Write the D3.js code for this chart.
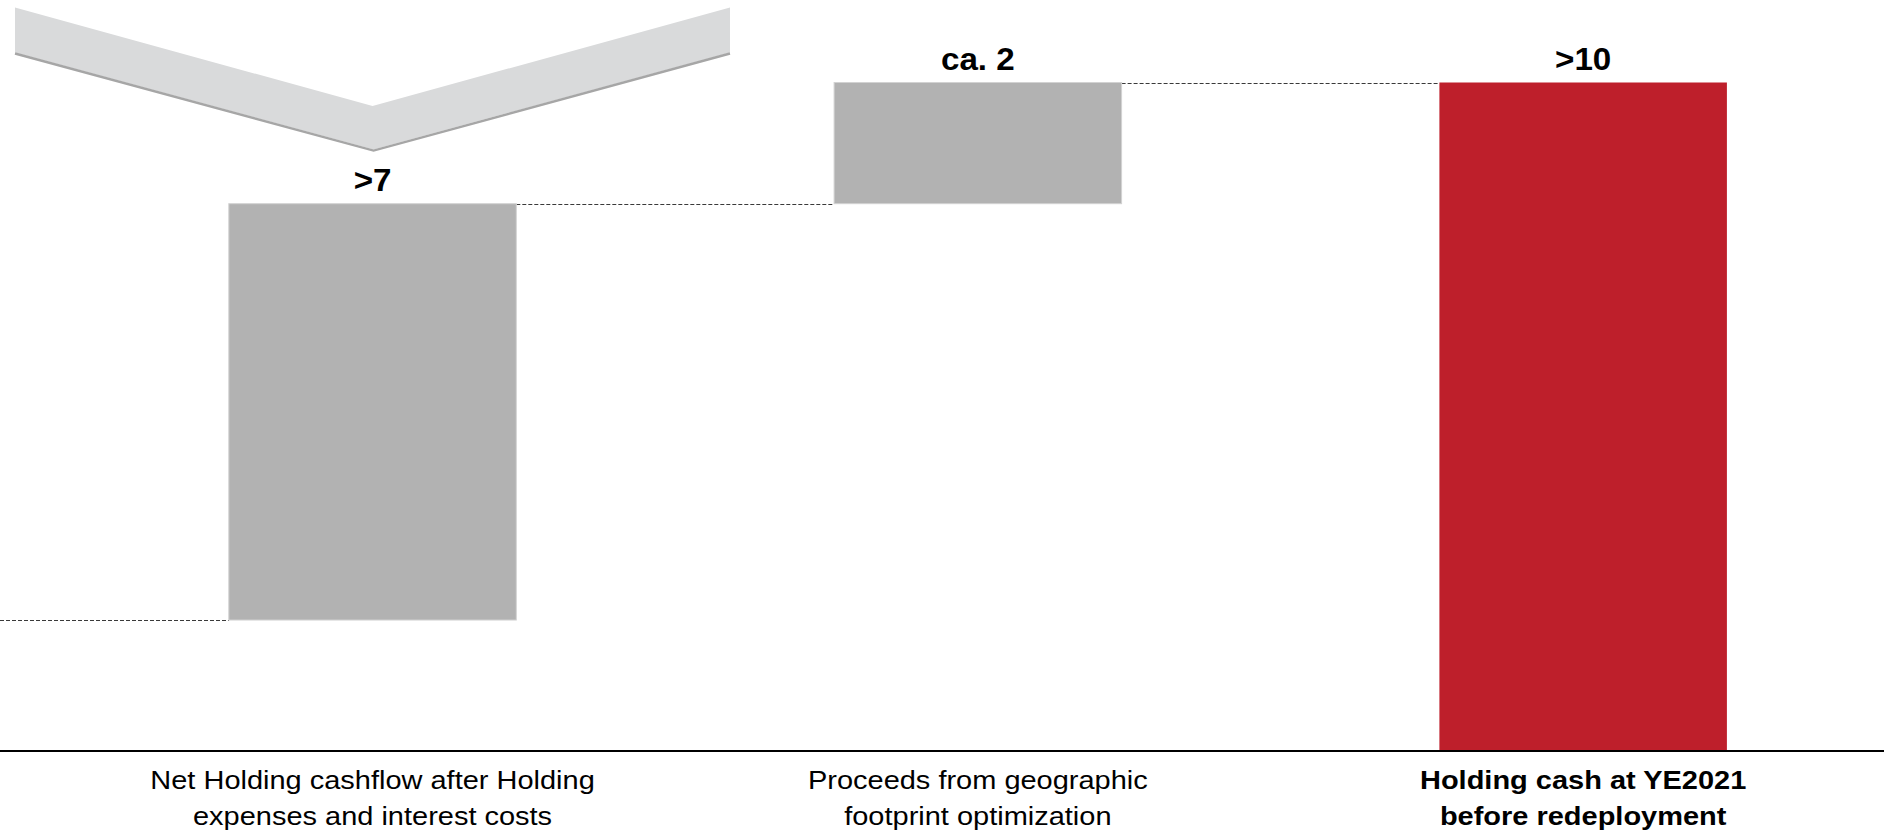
<!DOCTYPE html>
<html>
<head>
<meta charset="utf-8">
<script src="https://cdn.jsdelivr.net/npm/d3@7"></script>
<style>
  html, body { margin: 0; padding: 0; background: #fff; overflow: hidden; }
  svg { display: block; }
  text { font-family: "Liberation Sans", Arial, Helvetica, sans-serif; fill: #000; }
</style>
</head>
<body>
<svg id="chart" width="1898" height="831"></svg>
<script>
// ---- data ----
const startLevel = 2.25;                       // opening holding cash (bar lies left of view)
const categories = ["net", "proceeds", "total"];
const categoryLines = [
  ["Net Holding cashflow after Holding", "expenses and interest costs"],
  ["Proceeds from geographic", "footprint optimization"],
  ["Holding cash at YE2021", "before redeployment"]
];
const deltas = [7.18, 2.09];                   // EUR bn increments
const valueLabels = [">7", "ca. 2", ">10"];
const isTotal = [false, false, true];

// ---- derived waterfall ----
const total = startLevel + d3.sum(deltas);
const bars = categories.map((c, i) => {
  if (isTotal[i]) return { key: c, y0: 0, y1: total, i };
  const base = startLevel + d3.sum(deltas.slice(0, i));
  return { key: c, y0: base, y1: base + deltas[i], i };
});

// ---- scales ----
const svg = d3.select("#chart");
const step = 605.3, bw = 287.5, firstLeft = 228.8;
const pIn = 1 - bw / step, pOut = 0.5;
const r0 = firstLeft - pOut * step;
const r1 = r0 + step * (categories.length - pIn + 2 * pOut);
const x = d3.scaleBand().domain(categories).range([r0, r1]).paddingInner(pIn).paddingOuter(pOut);
const y = d3.scaleLinear().domain([0, total]).range([750.5, 82.5]);

// ---- decorative chevron above first bar ----
const cx = x(categories[0]) + x.bandwidth() / 2;
const chev = svg.append("g");
chev.append("polygon")
  .attr("points", [[15, 7.5], [cx, 106], [730, 7.5], [730, 52.5], [cx + 1, 149.5], [15, 52.5]].map(p => p.join(",")).join(" "))
  .attr("fill", "#d9dadb");
chev.append("polyline")
  .attr("points", [[15, 53.5], [cx + 1, 150.6], [730, 53.5]].map(p => p.join(",")).join(" "))
  .attr("fill", "none").attr("stroke", "#a6a6a6").attr("stroke-width", 2.4);

// ---- connectors ----
const conn = svg.append("g").attr("stroke", "#3a3a3a").attr("stroke-width", 1).attr("stroke-dasharray", "4,2");
conn.append("line")
  .attr("x1", 0).attr("x2", x(categories[0]))
  .attr("y1", Math.round(y(startLevel)) + 0.5).attr("y2", Math.round(y(startLevel)) + 0.5);
for (let i = 0; i < bars.length - 1; i++) {
  const lvl = bars[i].y1;
  const yy = Math.round(y(lvl)) + 0.5;
  conn.append("line")
    .attr("x1", x(categories[i]) + x.bandwidth()).attr("x2", x(categories[i + 1]))
    .attr("y1", yy).attr("y2", yy);
}

// ---- bars ----
svg.append("g").selectAll("rect").data(bars).join("rect")
  .attr("x", d => x(d.key))
  .attr("width", x.bandwidth())
  .attr("y", d => y(d.y1))
  .attr("height", d => y(d.y0) - y(d.y1))
  .attr("fill", d => isTotal[d.i] ? "#be1f2b" : "#b2b2b2")
  .attr("stroke", d => isTotal[d.i] ? "none" : "#d2d2d2")
  .attr("stroke-width", 1);

// ---- value labels ----
svg.append("g").selectAll("text").data(bars).join("text")
  .attr("transform", d => `translate(${x(d.key) + x.bandwidth() / 2},${y(d.y1) - 13}) scale(1.07,1)`)
  .attr("text-anchor", "middle")
  .attr("font-size", 31)
  .attr("font-weight", "bold")
  .text(d => valueLabels[d.i]);

// ---- baseline axis ----
svg.append("line")
  .attr("x1", 0).attr("x2", 1884)
  .attr("y1", y(0) + 0.5).attr("y2", y(0) + 0.5)
  .attr("stroke", "#000").attr("stroke-width", 2.2);

// ---- category labels ----
const lab = svg.append("g");
categories.forEach((c, i) => {
  categoryLines[i].forEach((line, j) => {
    lab.append("text")
      .attr("transform", `translate(${x(c) + x.bandwidth() / 2},${788.5 + j * 36}) scale(1.115,1)`)
      .attr("text-anchor", "middle")
      .attr("font-size", 26)
      .attr("font-weight", isTotal[i] ? "bold" : "normal")
      .text(line);
  });
});
</script>
</body>
</html>
